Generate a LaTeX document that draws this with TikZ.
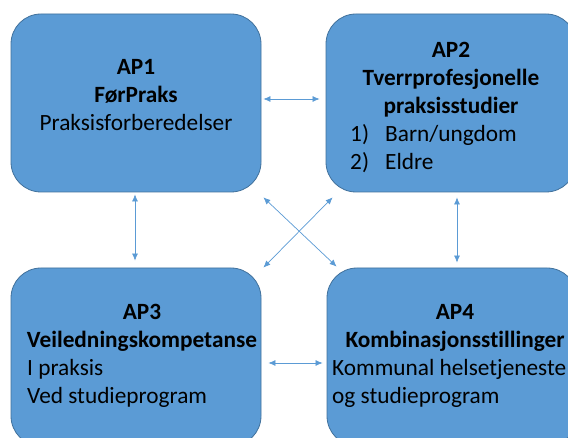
\documentclass[tikz,border=0pt]{standalone}
\usepackage{fontspec}
\setmainfont[Ligatures={NoCommon}]{Carlito}
\usetikzlibrary{arrows.meta}
\definecolor{boxfill}{HTML}{5B9BD5}
\definecolor{boxline}{HTML}{41719C}
\definecolor{arrowc}{HTML}{5B9BD5}
\tikzset{
  apbox/.style={draw=boxline, line width=0.8pt, fill=boxfill, rounded corners=30pt,
    minimum width=250pt, minimum height=178pt, inner sep=0pt},
  aptext/.style={inner sep=0pt, font=\fontsize{23.3}{28}\selectfont, text=black},
  link/.style={draw=arrowc, line width=0.7pt, {Latex[length=7pt,width=6pt]}-{Latex[length=7pt,width=6pt]}}
}
\begin{document}
\begin{tikzpicture}[x=1pt,y=-1pt]
\useasboundingbox (0,0) rectangle (568,438);
\clip (0,0) rectangle (568,438);
\fill[white] (0,0) rectangle (568,438);
\node[apbox] (ap1) at (136,103) {};
\node[apbox] (ap2) at (451,103) {};
\node[apbox] (ap3) at (136,357) {};
\node[apbox] (ap4) at (452,357) {};

\node[aptext, align=center] (t1) at (136,95) {\textbf{AP1}\\\textbf{FørPraks}\\Praksisforberedelser};
\node[aptext, align=center] (t2) at (451,80) {\textbf{AP2}\\\textbf{Tverrprofesjonelle}\\\textbf{praksisstudier}};
\node[aptext, align=left, anchor=west] (l2) at (350,149) {\makebox[35pt][l]{1)}Barn/ungdom\\\makebox[35pt][l]{2)}Eldre};
\node[aptext, align=center] (t3) at (142,327.5) {\textbf{AP3}\\\textbf{Veiledningskompetanse}};
\node[aptext, align=left, anchor=west] (l3) at (27,383.5) {I praksis\\Ved studieprogram};
\node[aptext, align=center] (t4) at (455,327.5) {\textbf{AP4}\\\textbf{Kombinasjonsstillinger}};
\node[aptext, align=left, anchor=west] (l4) at (332,383.5) {Kommunal helsetjeneste\\og studieprogram};

\draw[link] ([shift={(2,-4)}]ap1.east) -- ([shift={(-6,-4)}]ap2.west);
\draw[link] ([shift={(-1,2)}]ap1.south) -- ([shift={(-1,-7)}]ap3.north);
\draw[link] ([shift={(6,5)}]ap2.south) -- ([shift={(5,-5)}]ap4.north);
\draw[link] ([shift={(7,6)}]ap3.east) -- ([shift={(-4,6)}]ap4.west);
\draw[link] ([shift={(2,5)}]ap1.south east) -- ([shift={(10,-1)}]ap4.north west);
\draw[link] ([shift={(7,5)}]ap2.south west) -- ([shift={(2,0)}]ap3.north east);
\end{tikzpicture}
\end{document}
